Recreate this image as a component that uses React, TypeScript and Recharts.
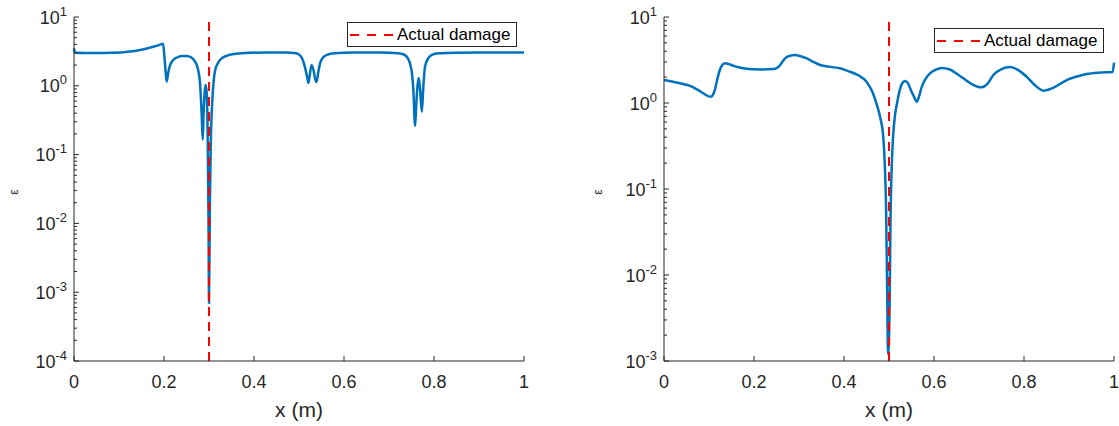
import { LineChart, Line, XAxis, YAxis, ReferenceLine } from 'recharts';

// left panel: damage at x = 0.3
const leftX = [
    0, 0.002, 0.02, 0.05, 0.08, 0.11, 0.135, 0.16, 0.18, 0.193, 0.198, 0.201, 0.204, 0.206, 0.209,
    0.213, 0.22, 0.23, 0.24, 0.25, 0.26, 0.268, 0.275, 0.28, 0.284, 0.286, 0.288, 0.291, 0.293,
    0.295, 0.297, 0.299, 0.3, 0.302, 0.304, 0.306, 0.309, 0.313, 0.32, 0.328, 0.34, 0.36, 0.39,
    0.43, 0.47, 0.49, 0.5, 0.507, 0.513, 0.518, 0.521, 0.524, 0.528, 0.533, 0.536, 0.539, 0.543,
    0.547, 0.553, 0.562, 0.58, 0.62, 0.68, 0.72, 0.733, 0.742, 0.75, 0.754, 0.758, 0.761, 0.766,
    0.769, 0.773, 0.776, 0.78, 0.787, 0.795, 0.81, 0.85, 0.9, 1,
];
const leftEps = [
    3.5, 3.05, 3.0, 3.0, 3.02, 3.08, 3.2, 3.45, 3.75, 4.0, 4.1, 2.6, 1.5, 1.15, 1.5,
    1.95, 2.35, 2.6, 2.72, 2.72, 2.6, 2.3, 1.8, 1.1, 0.35, 0.165, 0.4, 0.9, 1.03,
    0.75, 0.2, 0.01, 0.0007, 0.02, 0.15, 0.4, 0.9, 1.6, 2.15, 2.5, 2.75, 2.92, 3.02,
    3.05, 3.05, 3.0, 2.85, 2.5, 1.9, 1.35, 1.1, 1.45, 2.0, 1.6, 1.25, 1.14, 1.6,
    2.14, 2.55, 2.82, 2.97, 3.04, 3.05, 2.98, 2.85, 2.5, 1.7, 0.9, 0.26, 0.6, 1.3,
    0.9, 0.42, 0.9, 1.9, 2.5, 2.82, 2.97, 3.03, 3.05, 3.05,
];

// right panel: damage at x = 0.5
const rightX = [
    0, 0.03, 0.058, 0.075, 0.087, 0.098, 0.104, 0.109, 0.113, 0.118, 0.124, 0.13, 0.136, 0.148,
    0.161, 0.18, 0.198, 0.22, 0.243, 0.25, 0.256, 0.263, 0.269, 0.28, 0.291, 0.303, 0.317, 0.332,
    0.347, 0.37, 0.391, 0.413, 0.432, 0.45, 0.463, 0.473, 0.481, 0.487, 0.4905, 0.4935, 0.496,
    0.4978, 0.4995, 0.5015, 0.5035, 0.506, 0.509, 0.513, 0.518, 0.523, 0.528, 0.536, 0.542, 0.547,
    0.555, 0.562, 0.567, 0.573, 0.581, 0.591, 0.603, 0.617, 0.635, 0.65, 0.665, 0.685, 0.706, 0.72,
    0.732, 0.75, 0.769, 0.788, 0.806, 0.825, 0.843, 0.865, 0.895, 0.92, 0.939, 0.97, 0.997, 1,
];
const rightEps = [
    1.85, 1.72, 1.58, 1.42, 1.3, 1.2, 1.18, 1.25, 1.42, 1.85, 2.42, 2.78, 2.9, 2.78,
    2.64, 2.52, 2.47, 2.46, 2.48, 2.55, 2.69, 3.0, 3.31, 3.55, 3.61, 3.5, 3.31, 3.0,
    2.77, 2.63, 2.53, 2.31, 2.1, 1.77, 1.35, 0.95, 0.66, 0.42, 0.2, 0.06, 0.006,
    0.0012, 0.0015, 0.005, 0.05, 0.18, 0.4, 0.7, 1.0, 1.35, 1.65, 1.8, 1.7, 1.48,
    1.2, 1.035, 1.2, 1.55, 1.9, 2.21, 2.42, 2.55, 2.45, 2.2, 1.94, 1.65, 1.52, 1.7,
    2.12, 2.48, 2.62, 2.4, 2.02, 1.6, 1.39, 1.5, 1.85, 2.05, 2.17, 2.26, 2.3, 2.95,
];

const xTicks = [0, 0.2, 0.4, 0.6, 0.8, 1];
const leftDecades = [1e-4, 1e-3, 1e-2, 1e-1, 1, 10];
const rightDecades = [1e-3, 1e-2, 1e-1, 1, 10];
const leftDamage = 0.3;
const rightDamage = 0.5;
const legendLabel = 'Actual damage';
const xLabel = 'x (m)';
const yLabel = 'ε';

const FONT = '"Liberation Sans", Arial, Helvetica, sans-serif';
const AXIS = '#262626';
const BLUE = '#0072BD';
const RED = '#FF0000';

// minor log ticks 2..9 inside each decade
const minorTicks = (decades: number[]) =>
    decades.slice(0, -1).flatMap((d) => [2, 3, 4, 5, 6, 7, 8, 9].map((k) => d * k));

const YTick = ({ x, y, payload, side }: any) => {
    const v = payload.value;
    const lg = Math.log10(v);
    const exp = Math.round(lg);
    const major = Math.abs(lg - exp) < 1e-6;
    const dir = side === 'left' ? 1 : -1;
    return (
        <g>
            <line x1={x} y1={y} x2={x + dir * (major ? 5 : 3)} y2={y} stroke={AXIS} strokeWidth={1} />
            {major && side === 'left' && (
                <text x={x - 7} y={y + 6.5} textAnchor="end" fill={AXIS} fontSize={18} fontFamily={FONT}>
                    10
                    <tspan dy={-8} fontSize={13}>{`${exp}`}</tspan>
                </text>
            )}
        </g>
    );
};

const XTick = ({ x, y, payload, side }: any) => {
    const dir = side === 'bottom' ? -1 : 1;
    return (
        <g>
            <line x1={x} y1={y} x2={x} y2={y + dir * 5} stroke={AXIS} strokeWidth={1} />
            {side === 'bottom' && (
                <text x={x} y={y + 27} textAnchor="middle" fill={AXIS} fontSize={18} fontFamily={FONT}>
                    {String(payload.value)}
                </text>
            )}
        </g>
    );
};

const XLabel = ({ viewBox }: any) => (
    <text
        x={viewBox.x + viewBox.width / 2}
        y={viewBox.y + 56}
        textAnchor="middle"
        fill={AXIS}
        fontSize={21}
        fontFamily={FONT}
    >
        {xLabel}
    </text>
);

const EpsLabel = ({ viewBox, offsetX }: any) => {
    const cx = viewBox.x + offsetX;
    const cy = viewBox.y + viewBox.height / 2 + 3;
    return (
        <text
            x={cx}
            y={cy}
            textAnchor="middle"
            transform={`rotate(-90 ${cx} ${cy})`}
            fill={AXIS}
            fontSize={12}
            fontFamily={FONT}
        >
            {yLabel}
        </text>
    );
};

function DamageLegend({ left, top }: { left: number; top: number }) {
    return (
        <div
            style={{
                position: 'absolute',
                left,
                top,
                width: 170,
                height: 25,
                boxSizing: 'border-box',
                border: `1px solid ${AXIS}`,
                background: '#fff',
                display: 'flex',
                alignItems: 'center',
                fontFamily: FONT,
                fontSize: 17,
                color: '#000',
                whiteSpace: 'nowrap',
            }}
        >
            <svg width={44} height={4} style={{ marginLeft: 2 }}>
                <line x1={0} y1={2} x2={44} y2={2} stroke={RED} strokeWidth={2} strokeDasharray="9 8" />
            </svg>
            <span style={{ marginLeft: 3 }}>{legendLabel}</span>
        </div>
    );
}

interface PanelProps {
    xs: number[];
    eps: number[];
    decades: number[];
    damage: number;
    left: number;
    width: number;
    legendLeft: number;
    legendTop: number;
    epsOffset: number;
}

function EpsPanel({ xs, eps, decades, damage, left, width, legendLeft, legendTop, epsOffset }: PanelProps) {
    const data = xs.map((x, i) => ({ x, eps: eps[i] }));
    const domain = [decades[0], decades[decades.length - 1]];
    const yTicks = [...decades, ...minorTicks(decades)];
    const right = width - 74 - 450;

    return (
        <>
            <div style={{ position: 'absolute', left, top: 0, width, height: 426 }}>
                <LineChart width={width} height={426} data={data} margin={{ top: 17, right, bottom: 35, left: 0 }}>
                    <XAxis
                        dataKey="x"
                        type="number"
                        domain={[0, 1]}
                        ticks={xTicks}
                        interval={0}
                        height={30}
                        tickSize={0}
                        tickMargin={0}
                        tickLine={false}
                        tick={<XTick side="bottom" />}
                        axisLine={{ stroke: AXIS }}
                        label={<XLabel />}
                    />
                    <XAxis
                        xAxisId="top"
                        orientation="top"
                        type="number"
                        domain={[0, 1]}
                        ticks={xTicks}
                        interval={0}
                        height={0}
                        tickSize={0}
                        tickMargin={0}
                        tickLine={false}
                        tick={<XTick side="top" />}
                        axisLine={{ stroke: AXIS }}
                    />
                    <YAxis
                        scale="log"
                        type="number"
                        domain={domain}
                        allowDataOverflow
                        ticks={yTicks}
                        interval={0}
                        width={74}
                        tickSize={0}
                        tickMargin={0}
                        tickLine={false}
                        tick={<YTick side="left" />}
                        axisLine={{ stroke: AXIS }}
                        label={<EpsLabel offsetX={epsOffset} />}
                    />
                    <YAxis
                        yAxisId="r"
                        orientation="right"
                        scale="log"
                        type="number"
                        domain={domain}
                        allowDataOverflow
                        ticks={yTicks}
                        interval={0}
                        width={0}
                        tickSize={0}
                        tickMargin={0}
                        tickLine={false}
                        tick={<YTick side="right" />}
                        axisLine={{ stroke: AXIS }}
                    />
                    <Line
                        type="monotone"
                        dataKey="eps"
                        stroke={BLUE}
                        strokeWidth={2.5}
                        dot={false}
                        isAnimationActive={false}
                    />
                    <ReferenceLine x={damage} stroke={RED} strokeWidth={2} strokeDasharray="9 6" />
                </LineChart>
            </div>
            <DamageLegend left={legendLeft} top={legendTop} />
        </>
    );
}

export default function App() {
    return (
        <div style={{ position: 'absolute', left: 0, top: 0, width: 1119, height: 426, background: '#fff', overflow: 'hidden' }}>
            <EpsPanel
                xs={leftX}
                eps={leftEps}
                decades={leftDecades}
                damage={leftDamage}
                left={0}
                width={560}
                legendLeft={347}
                legendTop={22}
                epsOffset={18}
            />
            <EpsPanel
                xs={rightX}
                eps={rightEps}
                decades={rightDecades}
                damage={rightDamage}
                left={590}
                width={529}
                legendLeft={934}
                legendTop={28}
                epsOffset={12}
            />
        </div>
    );
}
